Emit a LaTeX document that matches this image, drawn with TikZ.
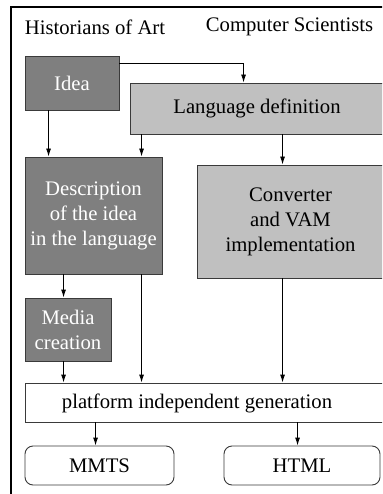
\documentclass[tikz,border=0pt]{standalone}
\usepackage{fontspec}
\setmainfont{Liberation Serif}
\usetikzlibrary{arrows.meta}
\definecolor{darkfill}{HTML}{7F7F7F}
\definecolor{lightfill}{HTML}{C0C0C0}
\definecolor{edgegray}{HTML}{3A3A3A}
\begin{document}
\begin{tikzpicture}[x=1pt,y=-1pt,
  every node/.style={font=\fontsize{20.7}{25}\selectfont, inner sep=0pt},
  dbox/.style={draw=edgegray, line width=0.9pt, fill=darkfill, text=white, align=center},
  lbox/.style={draw=edgegray, line width=0.9pt, fill=lightfill, text=black, align=center},
  wbox/.style={draw=edgegray, line width=0.9pt, fill=white, text=black, align=center},
  rbox/.style={wbox, rounded corners=8pt},
  arr/.style={draw=black, line width=0.9pt, -{Latex[length=8pt,width=5pt]}},
  plain/.style={draw=black, line width=0.9pt}]
\useasboundingbox (0,0) rectangle (382,494);
\clip (0,0) rectangle (382,494);
\fill[white] (0,0) rectangle (382,494);
\draw[line width=2pt] (11,7) rectangle (420,520);
\node (hist) at (95,27) {Historians of Art};
\node (comp) at (289.5,27) {Computer Scientists};
\node[dbox, minimum width=94pt, minimum height=54pt] (idea) at (72,83) {Idea};
\node[lbox, minimum width=254pt, minimum height=51pt] (lang) at (257,108.5) {Language definition};
\node[dbox, minimum width=137pt, minimum height=117pt] (desc) at (93.5,215.5) {Description\\of the idea\\in the language};
\node[lbox, minimum width=187pt, minimum height=113pt] (conv) at (290.5,221.5) {Converter\\and VAM\\implementation};
\node[dbox, minimum width=86pt, minimum height=63pt] (media) at (68,329.5) {Media\\creation};
\node[wbox, minimum width=359pt, minimum height=39pt] (plat) at (204.5,402.5) {};
\node (platlabel) at (197,403) {platform independent generation};
\node[rbox, minimum width=149pt, minimum height=39pt] (mmts) at (99.5,465.5) {MMTS};
\node[rbox, minimum width=156pt, minimum height=39pt] (html) at (302,465.5) {HTML};
\draw[arr] ([yshift=-8pt]idea.north east) -| ([xshift=114pt]lang.north west);
\draw[arr] ([xshift=24pt]idea.south west) -- ([xshift=24pt]desc.north west);
\draw[arr] ([xshift=12pt]lang.south west) -- ([xshift=117pt]desc.north west);
\draw[arr] ([xshift=153pt]lang.south west) -- ([xshift=86pt]conv.north west);
\draw[arr] ([xshift=39pt]desc.south west) -- ([xshift=39pt]media.north west);
\draw[arr] ([xshift=117pt]desc.south west) -- ([xshift=117pt]plat.north west);
\draw[arr] ([xshift=39pt]media.south west) -- ([xshift=39pt]plat.north west);
\draw[arr] ([xshift=86pt]conv.south west) -- ([xshift=258pt]plat.north west);
\draw[arr] ([xshift=71pt]plat.south west) -- ([xshift=71pt]mmts.north west);
\draw[arr] ([xshift=273pt]plat.south west) -- ([xshift=74pt]html.north west);
\end{tikzpicture}
\end{document}
